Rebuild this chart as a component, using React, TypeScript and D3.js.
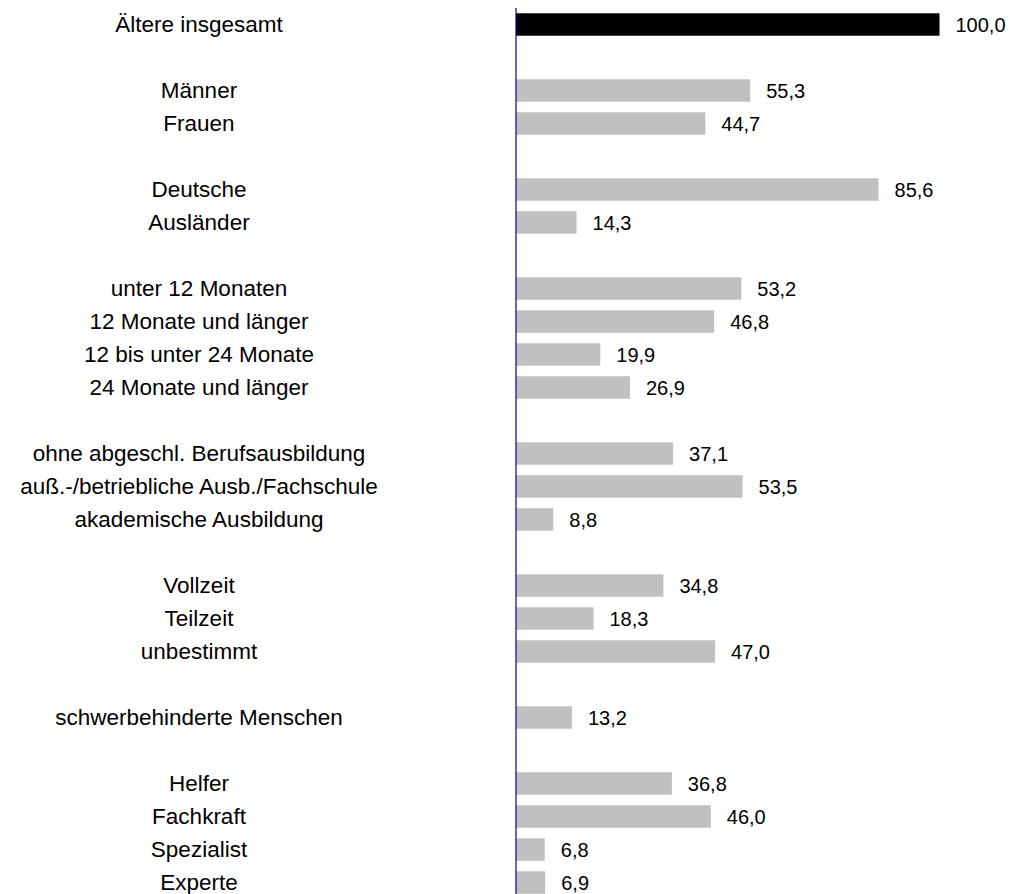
import React from "react";
import * as d3 from "d3";

const categories: string[] = [
  "Ältere insgesamt",
  "",
  "Männer",
  "Frauen",
  "",
  "Deutsche",
  "Ausländer",
  "",
  "unter 12 Monaten",
  "12 Monate und länger",
  "12 bis unter 24 Monate",
  "24 Monate und länger",
  "",
  "ohne abgeschl. Berufsausbildung",
  "auß.-/betriebliche Ausb./Fachschule",
  "akademische Ausbildung",
  "",
  "Vollzeit",
  "Teilzeit",
  "unbestimmt",
  "",
  "schwerbehinderte Menschen",
  "",
  "Helfer",
  "Fachkraft",
  "Spezialist",
  "Experte",
];

const values: (number | null)[] = [
  100.0,
  null,
  55.3,
  44.7,
  null,
  85.6,
  14.3,
  null,
  53.2,
  46.8,
  19.9,
  26.9,
  null,
  37.1,
  53.5,
  8.8,
  null,
  34.8,
  18.3,
  47.0,
  null,
  13.2,
  null,
  36.8,
  46.0,
  6.8,
  6.9,
];

const W = 1010;
const H = 894;
const FONT = "Arial, 'Liberation Sans', sans-serif";

export default function App() {
  const idx = categories.map((_, i) => String(i));
  const y = d3
    .scaleBand<string>()
    .domain(idx)
    .range([8, 8 + 27 * 33])
    .paddingInner(0.32)
    .paddingOuter(0.16);
  const x = d3.scaleLinear().domain([0, 100]).range([516, 939.5]);
  const fmt = (v: number) => d3.format(".1f")(v).replace(".", ",");

  return (
    <svg
      width={W}
      height={H}
      style={{ position: "absolute", left: 0, top: 0, background: "#fff" }}
    >
      {categories.map((c, i) => {
        const v = values[i];
        const yy = y(String(i))!;
        const cy = yy + y.bandwidth() / 2;
        return (
          <g key={i}>
            {c && (
              <text
                x={199}
                y={cy}
                dy="0.35em"
                textAnchor="middle"
                fontFamily={FONT}
                fontSize={22.5}
                fill="#000"
              >
                {c}
              </text>
            )}
            {v !== null && (
              <>
                <rect
                  x={x(0)}
                  y={yy}
                  width={x(v) - x(0)}
                  height={y.bandwidth()}
                  fill={i === 0 ? "#000" : "#C0C0C0"}
                />
                <text
                  x={x(v) + 16}
                  y={cy}
                  dy="0.36em"
                  fontFamily={FONT}
                  fontSize={20}
                  fill="#000"
                >
                  {fmt(v)}
                </text>
              </>
            )}
          </g>
        );
      })}
      <line
        x1={x(0)}
        x2={x(0)}
        y1={8}
        y2={H}
        stroke="#0000A0"
        strokeWidth={1.2}
      />
    </svg>
  );
}
